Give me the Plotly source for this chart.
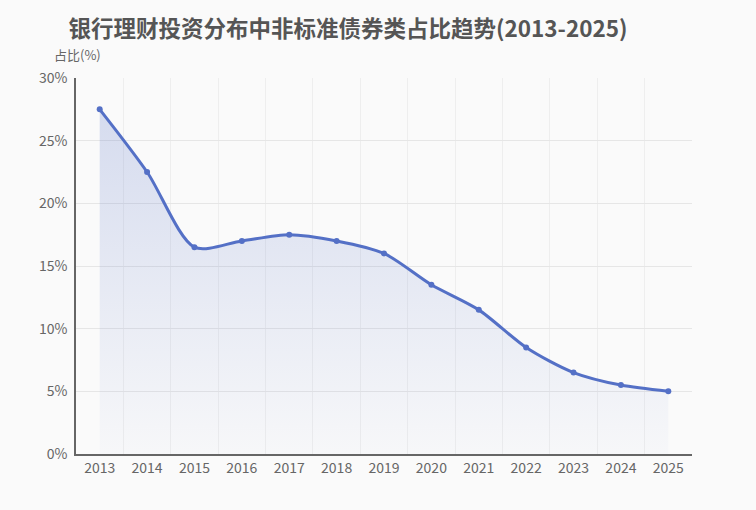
import plotly.graph_objects as go

years = ["2013", "2014", "2015", "2016", "2017", "2018", "2019",
         "2020", "2021", "2022", "2023", "2024", "2025"]
share = [27.5, 22.5, 16.5, 17.0, 17.5, 17.0, 16.0, 13.5, 11.5, 8.5, 6.5, 5.5, 5.0]
y_ticks = [0, 5, 10, 15, 20, 25, 30]
y_tick_labels = ["0%", "5%", "10%", "15%", "20%", "25%", "30%"]

FONT = "Noto Sans CJK SC"
LINE = "#5470c6"

fig = go.Figure()
fig.add_trace(go.Scatter(
    x=years, y=share,
    mode="lines+markers",
    line=dict(color=LINE, width=3, shape="spline", smoothing=0.8),
    marker=dict(size=6, color=LINE),
    fill="tozeroy",
    fillgradient=dict(type="vertical",
                      colorscale=[[0, "rgba(84,112,198,0.02)"], [1, "rgba(84,112,198,0.22)"]],
                      start=0, stop=27.5),
    hoverinfo="x+y",
    showlegend=False,
))

fig.update_layout(
    width=756, height=510,
    margin=dict(l=76, r=64, t=78, b=56),
    paper_bgcolor="#fafafa",
    plot_bgcolor="#fafafa",
    font=dict(family=FONT, color="#666666", size=14),
    title=dict(text="<b>银行理财投资分布中非标准债券类占比趋势(2013-2025)</b>",
               x=348/756, xanchor="center", y=1-29/510, yanchor="middle",
               font=dict(family=FONT, size=22.5, color="#555555")),
    xaxis=dict(type="category", tickson="boundaries",
               showgrid=True, gridcolor="#eeeeee", gridwidth=1,
               showline=True, linecolor="#666666", linewidth=1.5,
               ticks="", tickfont=dict(size=14, color="#666666"),
               range=[-0.5, 12.5], zeroline=False),
    yaxis=dict(range=[0, 30], tickvals=y_ticks, ticktext=y_tick_labels,
               showgrid=True, gridcolor="#e6e6e6", gridwidth=1,
               showline=True, linecolor="#666666", linewidth=1.5,
               ticks="", tickfont=dict(size=14, color="#666666"),
               zeroline=False, ticklabelstandoff=4),
    annotations=[dict(text="占比(%)", xref="paper", yref="paper",
                      x=1/616, y=1 + 24/376, xanchor="center", yanchor="middle",
                      showarrow=False, font=dict(family=FONT, size=13, color="#666666"))],
)

fig.write_html("out.html", config={"displayModeBar": False},
               post_script="document.body.style.margin='0';document.body.style.background='#fafafa';")
